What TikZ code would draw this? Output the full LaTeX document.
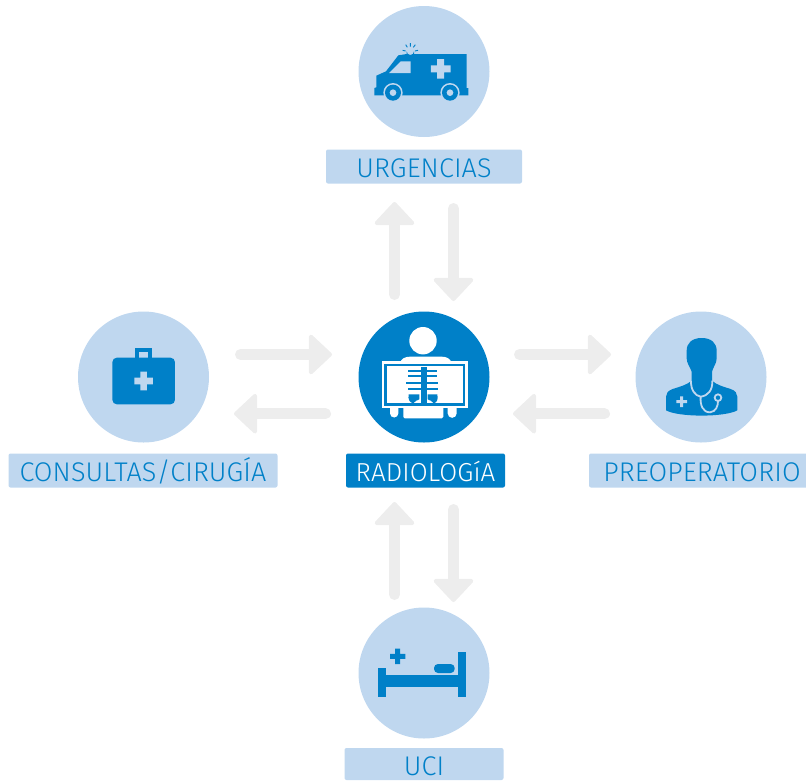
\documentclass[tikz,border=0pt]{standalone}
\usepackage{fontspec}
\usetikzlibrary{arrows.meta}
\setmainfont{Fira Sans}[UprightFont=* Light,LetterSpace=0.5]
\definecolor{lblue}{HTML}{BFD7EF}
\definecolor{dblue}{HTML}{0080C8}
\definecolor{agrey}{HTML}{EDEDED}
\newcommand{\plusmark}[5]{\fill[#1] (#2-#4,#3-#5) -- (#2+#4,#3-#5) -- (#2+#4,#3+#5) -- (#2-#4,#3+#5) -- cycle (#2-#5,#3-#4) -- (#2+#5,#3-#4) -- (#2+#5,#3+#4) -- (#2-#5,#3+#4) -- cycle;}
\tikzset{
 disc/.style={circle,fill=lblue,minimum size=131pt,inner sep=0pt},
 discdark/.style={disc,fill=dblue},
 tag/.style={rectangle,rounded corners=2pt,fill=lblue,text=dblue,inner sep=0pt,text height=28.25pt,text depth=5.75pt,font=\fontsize{27}{27}\selectfont},
 tagdark/.style={tag,fill=dblue,text=white,font=\fontsize{26}{26}\selectfont},
 flow/.style={agrey,line width=11pt,line cap=round,-{Triangle[round,line width=4pt,length=24pt,width=44pt]}},
 zoomed/.style={x=.33333pt,y=-.33333pt}
}
\begin{document}
\begin{tikzpicture}[x=1pt,y=-1pt]
\useasboundingbox (0,0) rectangle (806,780);
\node[disc] (urg) at (424,71.5) {};
\node[discdark] (rad) at (424,377) {};
\node[disc] (cons) at (143.5,377) {};
\node[disc] (pre) at (701,377) {};
\node[disc] (uci) at (424,673) {};
\node[tag,minimum width=196pt] (turg) at (424,166.5) {URGENCIAS};
\node[tagdark,minimum width=159pt] (trad) at (425.5,470.5) {RADIOLOGíA};
\node[tag,minimum width=269pt] (tcons) at (143,470.5) {CONSULTAS/CIRUGÍA};
\node[tag,minimum width=226pt] (tpre) at (702,470.5) {PREOPERATORIO};
\node[tag,minimum width=159pt,text height=27.25pt,text depth=4.75pt] (tuci) at (424,764) {UCI};
% connector ends
\coordinate (ua) at (394.5,294.5); \coordinate (ub) at (394.5,202);
\coordinate (uc) at (453.5,208.5); \coordinate (ud) at (453.5,301);
\coordinate (la) at (240.5,354.5); \coordinate (lb) at (332,354.5);
\coordinate (lc) at (325.5,413.7); \coordinate (ld) at (234,413.7);
\coordinate (ra) at (519.5,354.5); \coordinate (rb) at (611,354.5);
\coordinate (rc) at (604.5,413.7); \coordinate (rd) at (513,413.7);
\coordinate (da) at (394.5,594.5); \coordinate (db) at (394.5,502);
\coordinate (dc) at (453.5,509.5); \coordinate (dd) at (453.5,602);
\draw[flow] (ua) -- (ub);
\draw[flow] (uc) -- (ud);
\draw[flow] (la) -- (lb);
\draw[flow] (lc) -- (ld);
\draw[flow] (ra) -- (rb);
\draw[flow] (rc) -- (rd);
\draw[flow] (da) -- (db);
\draw[flow] (dc) -- (dd);
% ambulance
\begin{scope}[shift={(370pt,-38pt)},zoomed]
\fill[dblue] (290,48) -- (290,150) -- (295,150) -- (295,172) -- (13,172) -- (13,150) -- (19,148) -- (19,113) -- (48,100) -- (85,52) -- (110,48) -- (110,40) arc[start angle=180,end angle=0,radius=11] -- (132,48) -- cycle;
\fill[lblue] (57,105) -- (92,70) -- (122,70) -- (122,105) -- cycle;
\plusmark{lblue}{212}{92.5}{29.5}{10.5}
\fill[lblue] (69,164) circle[radius=29] (240,164) circle[radius=29];
\fill[dblue] (69,164) circle[radius=24] (240,164) circle[radius=24];
\fill[lblue] (69,164) circle[radius=10] (240,164) circle[radius=10];
\draw[dblue,line width=.9pt] (121,15) -- (121,26) (107,20) -- (112,28) (136,20) -- (130,28) (98,37) -- (107,39) (144,37) -- (135,39);
\end{scope}
% x-ray
\fill[white] (423,340.7) circle[radius=13.7];
\begin{scope}[shift={(375pt,-350pt)},zoomed]
\fill[white] (75,40) .. controls (78,26) and (90,20) .. (105,20) -- (200,20) .. controls (215,20) and (227,26) .. (230,40) -- cycle;
\fill[white,rounded corners=1.5pt] (85,170) rectangle (205,205);
\fill[white] (45,170) -- (70,170) -- (70,190) arc[start angle=0,end angle=180,radius=12.5] -- cycle;
\fill[white] (218,170) -- (245,170) -- (245,190) arc[start angle=0,end angle=180,radius=13.5] -- cycle;
\fill[white] (20,33) rectangle (278,175);
\fill[dblue] (28,41) rectangle (270,167);
\fill[white] (35,47) rectangle (263,160);
\fill[dblue] (137,52) rectangle (155,160);
\fill[dblue] (98,60) rectangle (186,66);
\fill[dblue] (98,76) rectangle (186,82);
\fill[dblue] (94,95) rectangle (190,101);
\fill[dblue] (98,113) rectangle (188,120);
\fill[dblue] (101,133) -- (133,133) -- (133,148) .. controls (125,150) and (120,154) .. (115,160) .. controls (104,158) and (98,148) .. cycle;
\fill[dblue] (187,133) -- (158,133) -- (158,148) .. controls (166,150) and (171,154) .. (176,160) .. controls (186,158) and (190,148) .. cycle;
\end{scope}
% briefcase
\begin{scope}[shift={(0pt,-300pt)},zoomed]
\fill[dblue] (405,145) rectangle (456,178);
\fill[lblue] (416,155) rectangle (445,173);
\fill[dblue,rounded corners=4.5pt] (337,173) rectangle (525,313);
\plusmark{lblue}{431}{243}{28}{10}
\end{scope}
% doctor
\begin{scope}[shift={(660pt,-330pt)},zoomed]
\fill[dblue] (125,24) .. controls (155,24) and (170,40) .. (170,62) -- (170,85) .. controls (170,100) and (160,110) .. (156,125) -- (156,152) .. controls (170,165) and (190,170) .. (212,177) .. controls (226,182) and (232,190) .. (232,200) -- (232,241) .. controls (195,262) and (55,262) .. (18,241) -- (18,200) .. controls (18,190) and (24,182) .. (38,177) .. controls (60,170) and (80,165) .. (95,152) -- (95,125) .. controls (90,110) and (80,100) .. (80,85) -- (80,62) .. controls (80,40) and (95,24) .. cycle;
\plusmark{lblue}{65}{215}{16}{4.5}
\draw[lblue,line width=1.8pt] (93,152) .. controls (92,180) and (105,197) .. (122,200) .. controls (145,197) and (158,180) .. (157,152);
\draw[lblue,line width=1.8pt] (122,200) .. controls (120,225) and (128,247) .. (150,247) .. controls (168,245) and (174,228) .. (174,213);
\draw[lblue,line width=1.8pt] (174,203) circle[radius=10];
\end{scope}
% bed
\begin{scope}[shift={(340pt,-600pt)},zoomed]
\fill[dblue] (115,205) rectangle (137,292);
\fill[dblue] (353,157) rectangle (377,292);
\fill[dblue] (137,226) rectangle (353,260);
\fill[dblue,rounded corners=4pt] (282,192) rectangle (344,219);
\plusmark{dblue}{173}{169}{23}{7.5}
\end{scope}
\end{tikzpicture}
\end{document}
